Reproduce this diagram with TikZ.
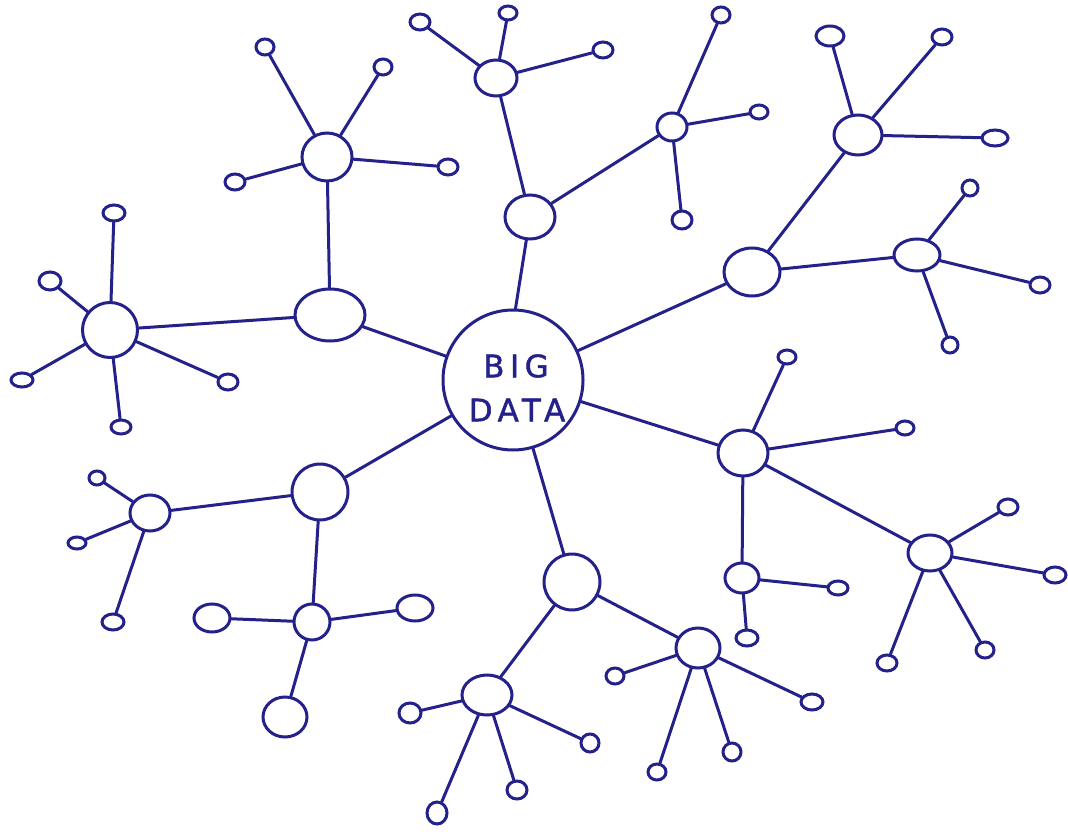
\documentclass[tikz,border=0pt]{standalone}
\usepackage{fontspec}
\setsansfont{DejaVu Sans}
\usetikzlibrary{shapes.geometric}
\definecolor{ink}{RGB}{36,34,138}
\tikzset{
  nd/.style={ellipse, draw=ink, line width=3pt, inner sep=0pt},
  link/.style={draw=ink, line width=3pt, line cap=round},
  lbl/.style={text=ink, font=\sffamily\fontsize{31}{36}\selectfont\addfontfeature{LetterSpace=18,FakeBold=1.5}}
}
\newcommand{\nd}[5]{\node[nd, minimum width=#4pt, minimum height=#5pt] (#1) at (#2,#3) {};}
\begin{document}
\begin{tikzpicture}[x=1pt,y=-1pt]
\useasboundingbox (0,0) rectangle (1068,834);
\fill[white] (0,0) rectangle (1068,834);
% center
\nd{c}{513}{380}{140}{140}
\node[lbl] (t1) at (516,366) {BIG};
\node[lbl] (t2) at (517,410) {DATA};
% level 1
\nd{a}{530}{217}{50}{44}
\nd{b}{330}{315}{70}{52}
\nd{cc}{752}{272}{56}{48}
\nd{d}{320}{492}{56}{56}
\nd{e}{572}{582}{56}{56}
\nd{f}{743}{453}{50}{46}
% hubs
\nd{a1}{496}{78}{42}{36}
\nd{a2}{672}{127}{30}{28}
\nd{b1}{327}{157}{50}{48}
\nd{b2}{110}{330}{55}{55}
\nd{c1}{858}{135}{48}{40}
\nd{c2}{917}{255}{46}{32}
\nd{d1}{150}{513}{40}{36}
\nd{d2}{312}{622}{36}{36}
\nd{e1}{487}{695}{50}{40}
\nd{e2}{698}{648}{44}{40}
\nd{f1}{742}{578}{34}{30}
\nd{f2}{930}{553}{44}{36}
% leaves
\nd{a1x}{420}{22}{20}{16}
\nd{a1y}{508}{13}{18}{14}
\nd{a1z}{603}{50}{20}{16}
\nd{a2x}{721}{15}{18}{16}
\nd{a2y}{759}{112}{18}{14}
\nd{a2z}{682}{220}{20}{18}
\nd{b1w}{265}{47}{18}{16}
\nd{b1x}{383}{67}{18}{16}
\nd{b1y}{235}{182}{20}{16}
\nd{b1z}{448}{167}{20}{16}
\nd{b2v}{114}{213}{22}{16}
\nd{b2w}{50}{281}{22}{18}
\nd{b2x}{22}{380}{22}{14}
\nd{b2y}{121}{427}{20}{14}
\nd{b2z}{228}{382}{20}{16}
\nd{c1x}{830}{36}{28}{20}
\nd{c1y}{942}{37}{20}{16}
\nd{c1z}{995}{138}{26}{16}
\nd{c2x}{970}{188}{16}{16}
\nd{c2y}{1040}{285}{20}{16}
\nd{c2z}{950}{345}{16}{16}
\nd{d1x}{97}{478}{16}{14}
\nd{d1y}{77}{543}{18}{12}
\nd{d1z}{113}{622}{22}{16}
\nd{d2x}{212}{618}{36}{28}
\nd{d2y}{415}{608}{36}{26}
\nd{d2z}{285}{717}{44}{40}
\nd{e1w}{410}{713}{22}{20}
\nd{e1x}{590}{743}{18}{18}
\nd{e1y}{517}{790}{20}{18}
\nd{e1z}{437}{813}{20}{22}
\nd{e2w}{615}{676}{18}{16}
\nd{e2x}{812}{702}{22}{16}
\nd{e2y}{732}{752}{18}{18}
\nd{e2z}{657}{772}{18}{16}
\nd{fx}{787}{357}{18}{14}
\nd{fy}{905}{428}{18}{14}
\nd{f1x}{838}{588}{20}{14}
\nd{f1y}{747}{638}{22}{16}
\nd{f2w}{1008}{507}{20}{16}
\nd{f2x}{1055}{575}{22}{16}
\nd{f2y}{985}{650}{18}{16}
\nd{f2z}{887}{663}{20}{16}
% connectors
\draw[link] (c.88) -- (a);
\foreach \u/\v in {c/b,c/cc,c/d,c/e,c/f,
  a/a1,a/a2,a1/a1x,a1/a1y,a1/a1z,a2/a2x,a2/a2y,a2/a2z,
  b/b1,b/b2,b1/b1w,b1/b1x,b1/b1y,b1/b1z,b2/b2v,b2/b2w,b2/b2x,b2/b2y,b2/b2z,
  cc/c1,cc/c2,c1/c1x,c1/c1y,c1/c1z,c2/c2x,c2/c2y,c2/c2z,
  d/d1,d/d2,d1/d1x,d1/d1y,d1/d1z,d2/d2x,d2/d2y,d2/d2z,
  e/e1,e/e2,e1/e1w,e1/e1x,e1/e1y,e1/e1z,e2/e2w,e2/e2x,e2/e2y,e2/e2z,
  f/f1,f/f2,f/fx,f/fy,f1/f1x,f1/f1y,f2/f2w,f2/f2x,f2/f2y,f2/f2z}
  \draw[link] (\u) -- (\v);
\end{tikzpicture}
\end{document}
